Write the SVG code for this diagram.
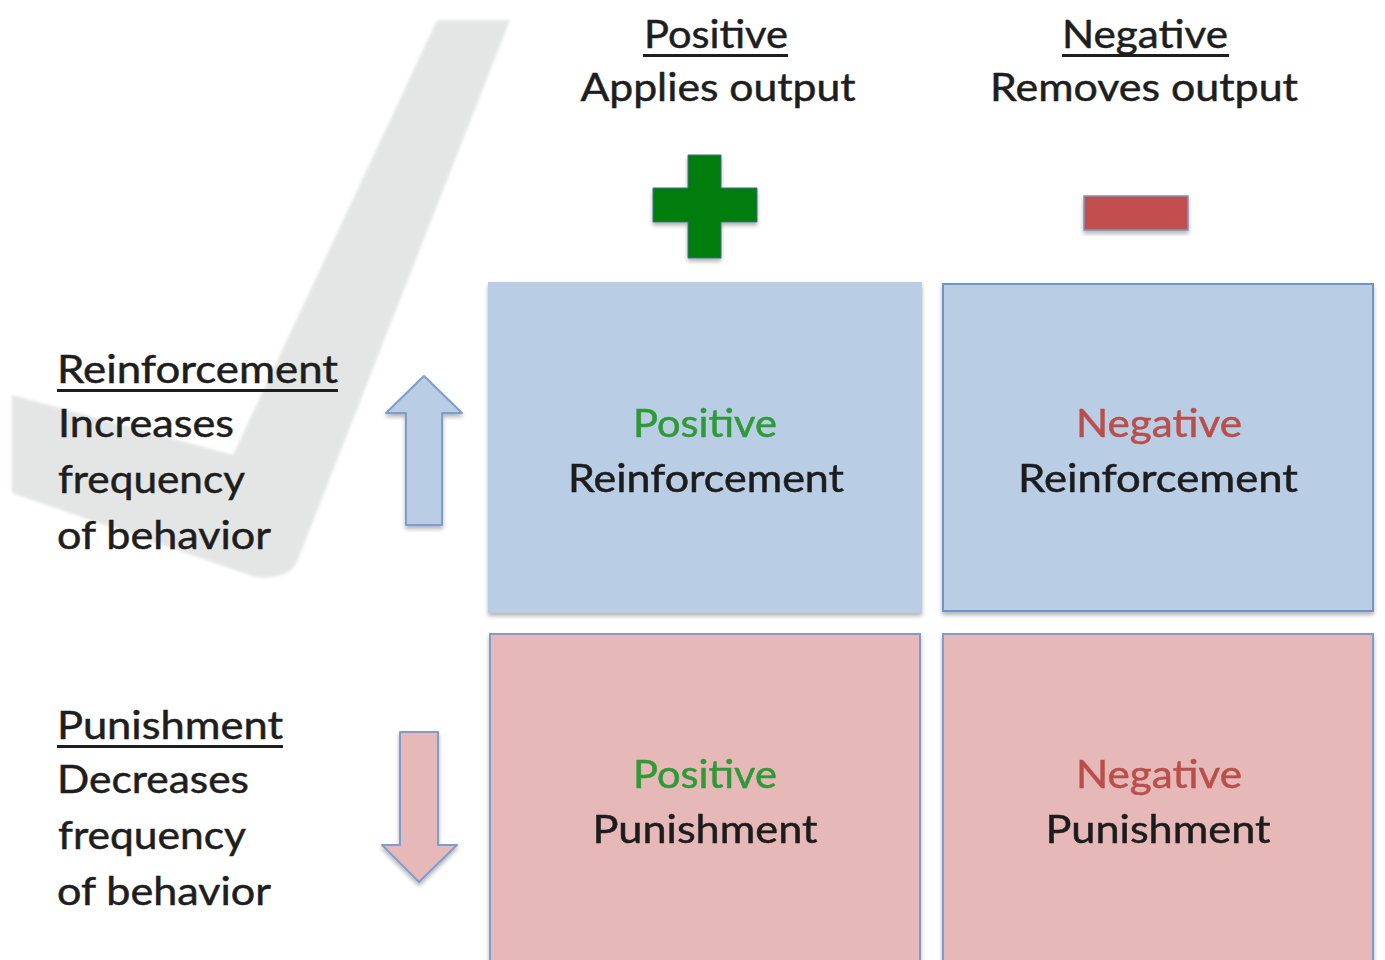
<svg xmlns="http://www.w3.org/2000/svg" width="1385" height="960" viewBox="0 0 1385 960">
<defs>
<filter id="shadow" x="-10%" y="-10%" width="120%" height="125%">
<feGaussianBlur in="SourceAlpha" stdDeviation="2"/>
<feOffset dx="0" dy="3" result="b"/>
<feComponentTransfer><feFuncA type="linear" slope="0.3"/></feComponentTransfer>
<feMerge><feMergeNode/><feMergeNode in="SourceGraphic"/></feMerge>
</filter>
<filter id="soft" x="-5%" y="-5%" width="110%" height="110%">
<feGaussianBlur stdDeviation="1.5"/>
</filter>
</defs>
<style>
text{font-family:Lato,"Open Sans","Liberation Sans",sans-serif;font-size:39px;fill:#1e1e1e;stroke:#1e1e1e;stroke-width:0.5}
.c{text-anchor:middle}
.g{fill:#2f9a36;stroke:#2f9a36}
.r{fill:#b94f4b;stroke:#b94f4b}
.blue{fill:#b9cde5}
.pink{fill:#e6b8b7}
.edge{stroke:#7f9ccf;stroke-width:2}
.ul{fill:#1e1e1e}
</style>
<rect width="1385" height="960" fill="#ffffff"/>

<g id="checkmark">
<path d="M437,20 L510,20 L297,562 Q288,580 255,577 L12,493 L12,395 L233,455 Z" fill="#e4e5e5" filter="url(#soft)"/>
</g>

<g id="header-positive">
<text class="c" x="716" y="48" textLength="144" lengthAdjust="spacingAndGlyphs">Positive</text>
<rect class="ul" x="643" y="54" width="145" height="3"/>
<text class="c" x="718" y="101" textLength="275" lengthAdjust="spacingAndGlyphs">Applies output</text>
</g>

<g id="header-negative">
<text class="c" x="1145" y="48" textLength="166" lengthAdjust="spacingAndGlyphs">Negative</text>
<rect class="ul" x="1062" y="54" width="167" height="3"/>
<text class="c" x="1144" y="101" textLength="308" lengthAdjust="spacingAndGlyphs">Removes output</text>
</g>

<g id="plus-sign" filter="url(#shadow)">
<path d="M688,155 H721 V188 H757 V222 H721 V258 H688 V222 H653 V188 H688 Z" fill="#037d0a" stroke="#3f6e8f" stroke-width="1"/>
</g>

<g id="minus-sign" filter="url(#shadow)">
<rect x="1084" y="196" width="104" height="34" fill="#c0504d" stroke="#7f93c0" stroke-width="1.5"/>
</g>

<g id="label-reinforcement">
<text x="57" y="383" textLength="281" lengthAdjust="spacingAndGlyphs">Reinforcement</text>
<rect class="ul" x="57" y="389" width="281" height="3"/>
<text x="58" y="437" textLength="176" lengthAdjust="spacingAndGlyphs">Increases</text>
<text x="58" y="493" textLength="187" lengthAdjust="spacingAndGlyphs">frequency</text>
<text x="57" y="549" textLength="214" lengthAdjust="spacingAndGlyphs">of behavior</text>
</g>

<g id="label-punishment">
<text x="57" y="739" textLength="226" lengthAdjust="spacingAndGlyphs">Punishment</text>
<rect class="ul" x="57" y="745" width="226" height="3"/>
<text x="57" y="793" textLength="192" lengthAdjust="spacingAndGlyphs">Decreases</text>
<text x="58" y="849" textLength="188" lengthAdjust="spacingAndGlyphs">frequency</text>
<text x="57" y="905" textLength="214" lengthAdjust="spacingAndGlyphs">of behavior</text>
</g>

<g id="arrow-up" filter="url(#shadow)">
<path class="blue edge" d="M424,376 L462,413 L442,413 L442,525 L406,525 L406,413 L386,413 Z" stroke-linejoin="round"/>
</g>

<g id="arrow-down" filter="url(#shadow)">
<path class="pink edge" d="M400,732 L438,732 L438,845 L457,845 L419,882 L382,845 L400,845 Z" stroke-linejoin="round"/>
</g>

<g id="box-positive-reinforcement" filter="url(#shadow)">
<rect class="blue" x="488" y="282" width="434" height="331"/>
<text class="c g" x="705" y="437" textLength="144" lengthAdjust="spacingAndGlyphs">Positive</text>
<text class="c" x="706" y="492" textLength="276" lengthAdjust="spacingAndGlyphs">Reinforcement</text>
</g>

<g id="box-negative-reinforcement" filter="url(#shadow)">
<rect class="blue" x="943" y="284" width="430" height="327" stroke="#6f93c9" stroke-width="2"/>
<text class="c r" x="1159" y="437" textLength="166" lengthAdjust="spacingAndGlyphs">Negative</text>
<text class="c" x="1158" y="492" textLength="280" lengthAdjust="spacingAndGlyphs">Reinforcement</text>
</g>

<g id="box-positive-punishment" filter="url(#shadow)">
<rect class="pink edge" x="490" y="634" width="430" height="330"/>
<text class="c g" x="705" y="788" textLength="144" lengthAdjust="spacingAndGlyphs">Positive</text>
<text class="c" x="705" y="843" textLength="225" lengthAdjust="spacingAndGlyphs">Punishment</text>
</g>

<g id="box-negative-punishment" filter="url(#shadow)">
<rect class="pink edge" x="943" y="634" width="430" height="330"/>
<text class="c r" x="1159" y="788" textLength="166" lengthAdjust="spacingAndGlyphs">Negative</text>
<text class="c" x="1158" y="843" textLength="225" lengthAdjust="spacingAndGlyphs">Punishment</text>
</g>

<g id="connectors"></g>
</svg>
